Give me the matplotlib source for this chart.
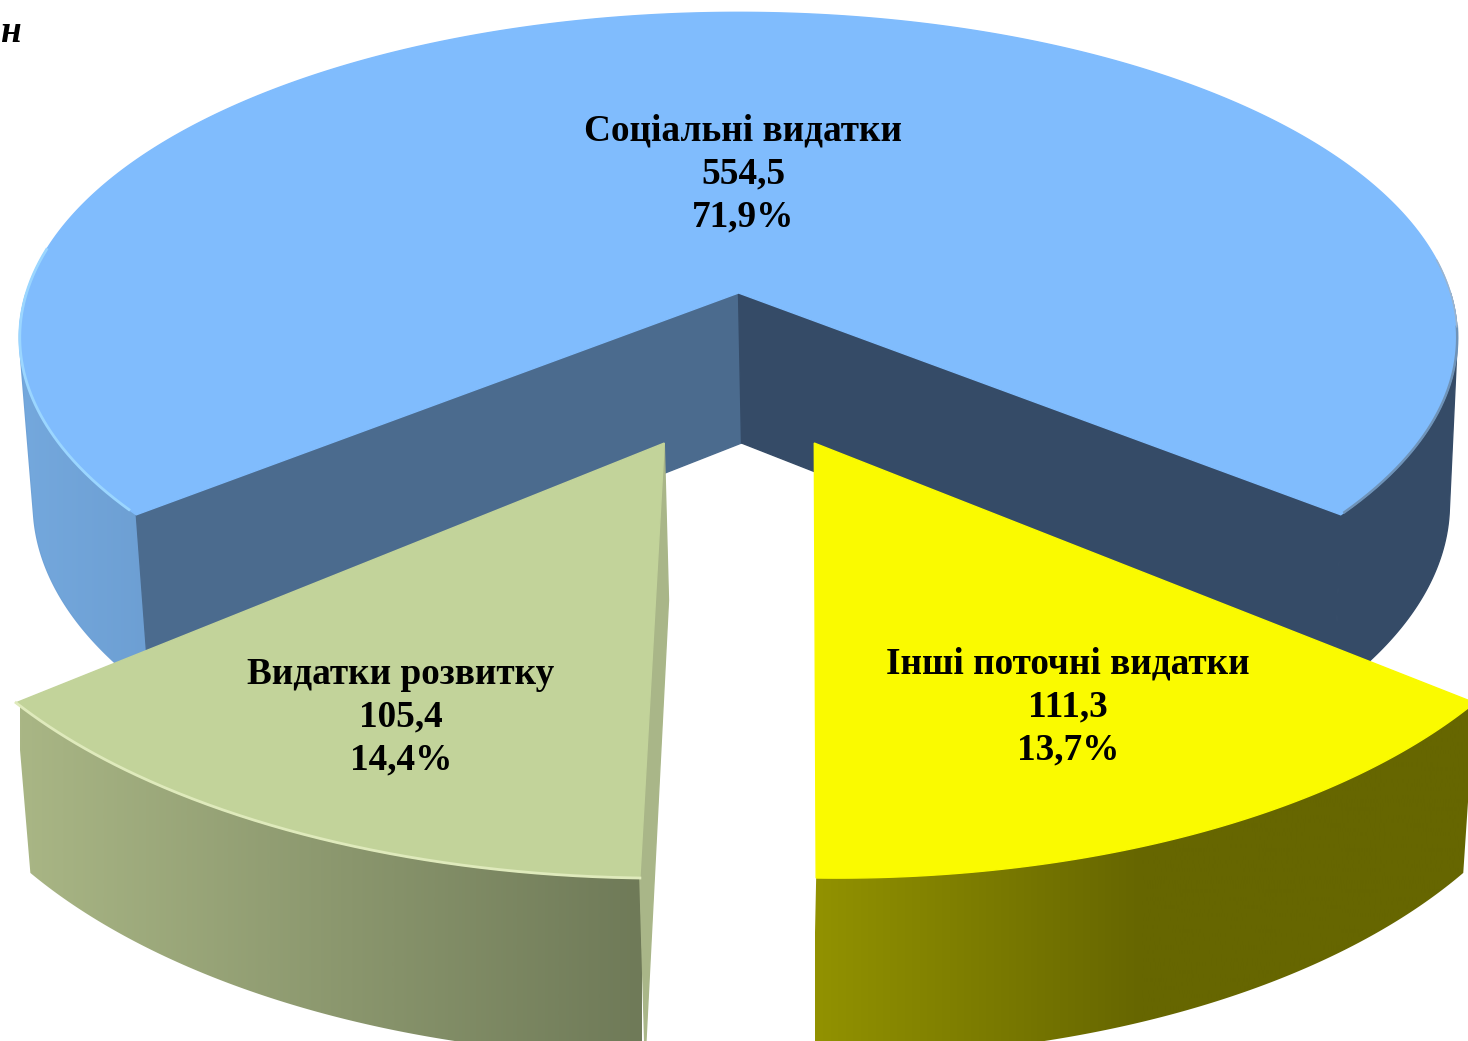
import numpy as np
import matplotlib
matplotlib.use("Agg")
import matplotlib.pyplot as plt
from matplotlib.patches import Polygon
from matplotlib.colors import LinearSegmentedColormap

# ---- data ----
categories = ["Соціальні видатки", "Інші поточні видатки", "Видатки розвитку"]
amounts = [554.5, 111.3, 105.4]
amount_labels = ["554,5", "111,3", "105,4"]
percent_labels = ["71,9%", "13,7%", "14,4%"]
unit_label = "н"

# ---- projection of the pie plane to the picture ----
CX, CY, A, B, K = 738.5, 293.0, 712.0, 319.0, 0.1365
DEPTH, SCALE = 150.0, 0.985
START = -39.42  # degrees, slices run clockwise after the first one


def top(u, v, shear=0.0):
    d = 1 + K * v
    y = CY - B * v / d
    return CX + A * u / d + shear * (y - 443), y


def bot(u, v, shear=0.0, extra=0.0):
    d = 1 + K * v
    y = CY - SCALE * B * v / d + DEPTH / d + extra
    return CX + 3 + SCALE * A * u / d + shear * (y - 595), y


def arc(a0, a1, off=(0, 0), n=200, vs=1.0):
    t = np.radians(np.linspace(a0, a1, n))
    return np.cos(t) + off[0], vs * np.sin(t) + off[1]


def poly(ax, pts, color, z, **kw):
    p = Polygon(np.asarray(pts), closed=True, fc=color, ec=kw.pop("ec", color), lw=kw.pop("lw", 1.0), zorder=z, **kw)
    ax.add_patch(p)
    return p


def hull(pts):
    pts = sorted(set(map(tuple, np.round(pts, 3))))

    def half(seq):
        out = []
        for p in seq:
            while len(out) > 1 and ((out[-1][0] - out[-2][0]) * (p[1] - out[-2][1])
                                    - (out[-1][1] - out[-2][1]) * (p[0] - out[-2][0])) <= 0:
                out.pop()
            out.append(p)
        return out[:-1]

    return np.array(half(pts) + half(pts[::-1]))


def rim(u, v, shear=0.0, bshear=None, extra=0.0):
    tx, ty = top(u, v, shear)
    bx, by = bot(u, v, shear if bshear is None else bshear, extra)
    return hull(np.r_[np.c_[tx, ty], np.c_[bx, by]])


def gradient(ax, pts, stops, x0, x1, z):
    p = poly(ax, pts, "none", z, ec="none", lw=0)
    cmap = LinearSegmentedColormap.from_list("g", stops)
    im = ax.imshow(np.linspace(0, 1, 512)[None, :], extent=(x0, x1, 1041, 0), cmap=cmap,
                   aspect="auto", zorder=z, interpolation="bilinear")
    im.set_clip_path(p)


fig = plt.figure(figsize=(14.68, 10.41), dpi=100, facecolor="white")
ax = fig.add_axes([0, 0, 1, 1])
total = sum(amounts)
spans = [a / total * 360 for a in amounts]

# social slice
s0 = START
s1 = START + spans[0]
u, v = arc(s0, 0)
poly(ax, rim(u, v, extra=14), "#354b67", 2)
u, v = arc(180, s1)
poly(ax, rim(u, v, extra=14), "#6fa2d7", 1.9, lw=1.5)
gradient(ax, rim(u, v, extra=14), ["#74a8dd", "#6d9fd3"], 20, 150, 2)
ex, ey = arc(s1, s1, n=1)
poly(ax, [top(0, 0), bot(0, 0), bot(ex[0], ey[0]), top(ex[0], ey[0])], "#4b6b8e", 3)
ex, ey = arc(s0, s0, n=1)
poly(ax, [top(0, 0), bot(0, 0), bot(ex[0], ey[0]), top(ex[0], ey[0])], "#354b67", 3)
u, v = arc(s0, s1, n=500)
tx, ty = top(u, v)
poly(ax, np.r_[[top(0, 0)], np.c_[tx, ty]], "#80bcfd", 4)
u, v = arc(172, s1 - 1)
ax.plot(*top(u, v), color="#9bd6ff", lw=2, zorder=5)
u, v = arc(s0 + 0.5, -6)
ax.plot(*top(u, v), color="#6f93b8", lw=1.8, zorder=5)
u, v = arc(-6, 6)
ax.plot(*top(u, v), color="#9db4cc", lw=1.0, zorder=5)

VS, SHEAR = 1.025, 0.023

# yellow slice
off_y = (0.100, -0.442)
a1 = START
a0 = START - spans[1]
u, v = arc(a0, a1, off_y, vs=VS)
gradient(ax, rim(u, v, SHEAR, SHEAR * 0.4), ["#929200", "#666600", "#666600"], 815, 1468, 6)
tx, ty = top(u, v, SHEAR)
poly(ax, np.r_[[top(*off_y, SHEAR)], np.c_[tx, ty]], "#fafa00", 7)

# green slice
off_g = (-0.098, -0.442)
a1 = a0
a0 = a1 - spans[2]
u, v = arc(a0, a1, off_g, vs=VS)
gradient(ax, rim(u, v, SHEAR), ["#a9b685", "#6f7a58"], 20, 642, 6)
ex, ey = arc(a1, a1, off_g, n=1, vs=VS)
poly(ax, [top(*off_g, SHEAR), bot(*off_g, SHEAR), bot(ex[0], ey[0], SHEAR), top(ex[0], ey[0], SHEAR)], "#a9b688", 6.5)
tx, ty = top(u, v, SHEAR)
poly(ax, np.r_[[top(*off_g, SHEAR)], np.c_[tx, ty]], "#c2d39a", 7)
ax.plot(tx, ty, color="#dfeabc", lw=2.0, zorder=8)

# labels
font = dict(family="Liberation Serif", fontweight="bold", fontsize=26.8, color="black", ha="center", va="center", zorder=10)
label_x = [743, 1068, 401]
label_y = [131, 664, 674]
for i in range(3):
    for j, s in enumerate([categories[i], amount_labels[i], percent_labels[i]]):
        ax.text(label_x[i], label_y[i] + j * 43, s, **font)
ax.text(0, 33, unit_label, family="Liberation Serif", fontweight="bold", fontstyle="italic",
        fontsize=26.8, ha="left", va="center", color="black", zorder=10)

ax.set_xlim(0, 1468)
ax.set_ylim(1041, 0)
ax.axis("off")
fig.savefig("out.png", dpi=100, facecolor="white")
